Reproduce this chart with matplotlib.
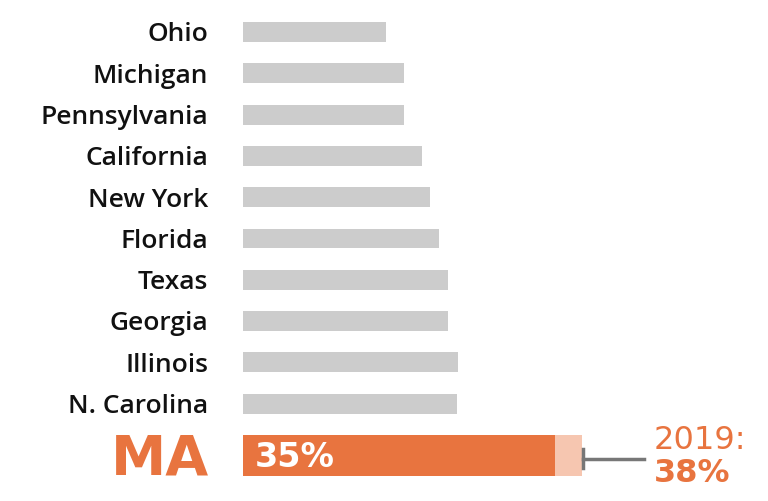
import matplotlib.pyplot as plt

states = ["Ohio", "Michigan", "Pennsylvania", "California", "New York",
          "Florida", "Texas", "Georgia", "Illinois", "N. Carolina"]
values = [16.1, 18.1, 18.1, 20.1, 21.0, 22.0, 23.0, 23.0, 24.1, 24.0]
ma_label = "MA"
ma_now = 35
ma_2019 = 38

ORANGE = "#E8743F"
LIGHT = "#F6C6B0"
GRAY = "#CCCCCC"

fig = plt.figure(figsize=(7.68, 5.01), dpi=100)
ax = fig.add_axes([0, 0, 1, 1])
px = 8.91  # pixels per percent
ax.set_xlim(-243 / px, (768 - 243) / px)
pitch = 41.3
ax.set_ylim((501 - 32) / pitch, -32 / pitch)
ax.axis("off")

ys = list(range(len(states)))
ax.barh(ys, values, height=0.48, color=GRAY, left=0)
for y, name in zip(ys, states):
    ax.text(-35 / px, y + 0.07, name, ha="right", va="center", fontsize=19,
            fontweight="semibold", family="Open Sans", color="#111111")

y_ma = len(states) - 1 + 1.26
ax.barh(y_ma, ma_2019, height=0.99, color=LIGHT)
ax.barh(y_ma, ma_now, height=0.99, color=ORANGE)
ax.text(-34 / px, y_ma + 0.08, ma_label, ha="right", va="center", fontsize=40,
        fontweight="bold", family="DejaVu Sans", color=ORANGE)
ax.text(12 / px, y_ma + 0.05, f"{ma_now}%", ha="left", va="center", fontsize=24,
        fontweight="bold", family="DejaVu Sans", color="white")

# change marker from 2019 value
ax.plot([ma_2019 + 0.15, ma_2019 + 62 / px], [y_ma + 0.07, y_ma + 0.07],
        color="#777777", lw=2.5)
ax.plot([ma_2019 + 0.15, ma_2019 + 0.15], [y_ma - 0.17, y_ma + 0.3],
        color="#777777", lw=2.5)
ax.text(ma_2019 + 72 / px, y_ma - 0.38, "2019:", ha="left", va="center",
        fontsize=23, family="DejaVu Sans", color=ORANGE)
ax.text(ma_2019 + 72 / px, y_ma + 0.44, f"{ma_2019}%", ha="left", va="center",
        fontsize=23, fontweight="bold", family="DejaVu Sans", color=ORANGE)

fig.savefig("out.png", dpi=100)
